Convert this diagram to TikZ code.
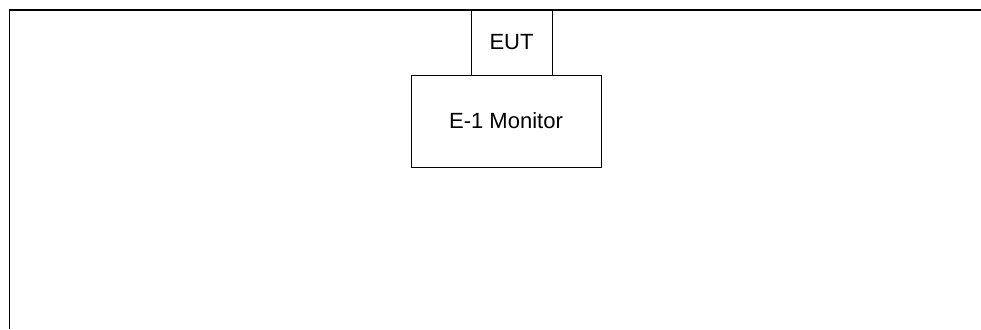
\documentclass[tikz,border=0pt]{standalone}
\usepackage{fontspec}
\setmainfont{Liberation Sans}
\usetikzlibrary{positioning}

\begin{document}
\begin{tikzpicture}[
    x=1pt, y=-1pt,
    box/.style={rectangle, draw, line width=1pt, inner sep=0pt, font=\fontsize{22}{26}\selectfont},
    frame/.style={draw, line width=1.2pt}
]
    \useasboundingbox (0,0) rectangle (981,329);
    \coordinate (topright) at (981,10);
    \coordinate (corner) at (9.5,10);
    \coordinate (bottomleft) at (9.5,329);
    \draw[frame] (topright) -- (corner) -- (bottomleft);

    \node[box, minimum width=81pt, minimum height=65pt] (eut) at (511.5,42.5) {EUT};
    \node[box, minimum width=190pt, minimum height=92pt] (monitor) at (506,121) {E-1 Monitor};
\end{tikzpicture}
\end{document}
